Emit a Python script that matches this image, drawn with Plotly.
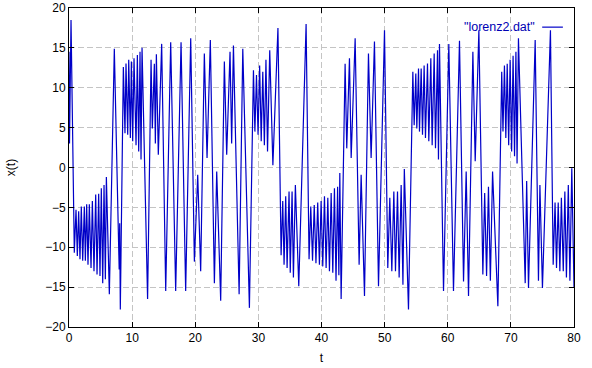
import plotly.graph_objects as go

# Time series x(t) (local extrema in order)
t_values = [
    0.00, 0.08, 0.32, 0.84, 1.11, 1.32, 1.53, 1.74, 1.95, 2.17, 2.43, 2.59, 2.80, 3.01,
    3.22, 3.49, 3.70, 3.96, 4.23, 4.44, 4.70, 4.91, 5.12, 5.34, 5.55, 5.76, 5.92, 6.39,
    7.18, 7.95, 8.03, 8.13, 8.61, 8.87, 9.03, 9.30, 9.46, 9.72, 9.88, 10.09, 10.30, 10.62,
    10.83, 11.04, 11.25, 11.41, 11.57, 12.45, 13.00, 13.20, 13.52, 13.68, 13.84, 14.15,
    14.68, 15.32, 16.11, 16.90, 17.75, 18.48, 19.28, 19.86, 20.39, 20.86, 21.44, 21.87,
    22.39, 23.03, 23.40, 24.03, 24.61, 24.98, 25.51, 25.77, 26.05, 26.95, 27.53, 28.58,
    29.22, 29.45, 29.70, 29.95, 30.20, 30.45, 30.70, 30.95, 31.20, 31.45, 31.80, 32.30,
    33.10, 33.60, 33.86, 34.07, 34.33, 34.55, 34.86, 35.05, 35.34, 35.55, 35.86, 36.40,
    37.56, 38.03, 38.30, 38.58, 38.85, 39.12, 39.40, 39.67, 39.94, 40.20, 40.47, 40.73,
    41.00, 41.26, 41.53, 41.79, 42.05, 42.30, 42.55, 42.75, 42.90, 43.11, 43.74, 44.00,
    44.43, 44.70, 45.33, 45.96, 46.28, 46.81, 47.44, 47.86, 48.39, 49.03, 49.98, 50.50,
    50.82, 51.14, 51.46, 51.72, 52.04, 52.30, 52.62, 52.90, 53.12, 53.78, 54.47, 54.68,
    54.94, 55.10, 55.37, 55.52, 55.79, 56.00, 56.26, 56.47, 56.79, 57.00, 57.32, 57.53,
    57.85, 58.06, 58.38, 58.53, 58.69, 59.33, 60.17, 60.91, 61.86, 62.50, 62.92, 63.29,
    63.98, 64.35, 64.93, 65.56, 65.85, 66.15, 66.45, 66.75, 67.10, 67.94, 68.55, 68.75,
    68.98, 69.20, 69.42, 69.65, 69.88, 70.12, 70.35, 70.58, 70.80, 70.98, 71.20, 72.27,
    72.50, 72.79, 73.85, 74.37, 74.60, 75.00, 76.27, 76.70, 77.00, 77.23, 77.50, 77.76,
    78.00, 78.30, 78.55, 78.80, 79.10, 79.35, 79.65, 80.00,
]

x_values = [
    14.5, 3.0, 18.5, -10.7, -5.3, -11.1, -5.5, -11.5, -4.9, -11.7, -4.9, -11.7, -4.6, -12.2,
    -4.6, -12.6, -4.2, -13.0, -3.4, -13.4, -3.3, -13.6, -2.6, -14.5, -2.2, -14.0, -1.2, -15.9,
    14.9, -12.8, -7.0, -17.8, 12.6, 4.3, 13.05, 4.1, 13.5, 3.7, 13.3, 3.3, 13.7, 2.8,
    14.1, 2.0, 14.5, 1.0, 15.0, -16.5, 13.5, 4.9, 13.0, 3.0, 14.2, 1.6,
    15.5, -15.5, 15.7, -15.5, 15.7, -15.5, 16.2, -11.8, -0.9, -13.0, 14.3, 1.2,
    16.0, -14.5, -0.5, -16.7, 13.3, 1.6, 14.5, 3.0, 15.3, -15.9, 14.9, -17.6,
    12.2, 4.5, 11.6, 4.1, 12.8, 3.3, 12.0, 2.8, 13.5, 2.0, 14.7, 0.3,
    17.5, -11.0, -4.2, -12.2, -3.6, -12.6, -3.0, -13.2, -3.0, -13.8, -2.2, -14.9,
    18.0, -11.5, -4.9, -11.7, -4.7, -12.0, -4.4, -12.2, -4.2, -12.4, -3.6, -12.6,
    -3.8, -13.0, -3.2, -13.2, -2.6, -14.2, -2.4, -13.5, -0.7, -16.5, 13.0, 2.4,
    13.7, 1.2, 16.2, -12.2, -0.9, -16.1, 14.3, 1.2, 15.8, -14.9, 17.2, -12.6,
    -3.8, -13.0, -3.0, -13.0, -3.0, -13.8, -2.2, -14.7, -0.2, -17.8, 12.0, 5.3,
    11.8, 4.9, 12.4, 4.5, 12.4, 4.1, 12.8, 3.7, 13.05, 3.3, 13.7, 2.8,
    14.3, 2.4, 14.7, 1.0, 15.5, -15.5, 15.5, -15.5, 15.9, -14.3, -0.5, -16.1,
    14.5, 0.8, 17.2, -13.4, -3.2, -13.6, -2.4, -14.2, -0.5, -17.4, 12.0, 4.5,
    12.8, 3.7, 13.0, 2.8, 13.5, 2.0, 14.0, 1.4, 14.5, 0.5, 16.2, -14.5,
    -1.7, -15.1, 16.0, -14.2, -2.2, -15.1, 17.2, -12.2, -4.4, -12.6, -4.4, -13.0,
    -3.8, -13.0, -3.0, -13.8, -2.2, -14.2, -0.1, -15.0,
]

x_ticks = [0, 10, 20, 30, 40, 50, 60, 70, 80]
y_ticks = [-20, -15, -10, -5, 0, 5, 10, 15, 20]
series_name = '"lorenz2.dat"'

LINE_COLOR = "#0000c8"
FONT = "Liberation Sans, Arial, sans-serif"

fig = go.Figure()
fig.add_trace(go.Scatter(
    x=t_values, y=x_values, mode="lines",
    line=dict(color=LINE_COLOR, width=1.2),
    name=series_name, showlegend=False,
))

axis_common = dict(
    showline=True, linecolor="black", linewidth=1, mirror="ticks",
    ticks="inside", ticklen=5, tickcolor="black", tickwidth=1,
    showgrid=True, gridcolor="#c4c4c4", griddash="6px,3px", gridwidth=1,
    zeroline=False, tickfont=dict(family=FONT, size=12, color="black"),
    automargin=False,
)

fig.update_xaxes(range=[0, 80], tickvals=x_ticks, **axis_common,
                 title=dict(text="t", font=dict(family=FONT, size=12, color="black"), standoff=9))
fig.update_yaxes(range=[-20, 20], tickvals=y_ticks, **axis_common,
                 title=dict(text="x(t)", font=dict(family=FONT, size=12, color="black"), standoff=27))

# gnuplot-style key: text then line sample, top right inside the plot
fig.add_annotation(xref="paper", yref="paper", x=0.926, y=0.94, xanchor="right", yanchor="middle",
                   text=series_name, showarrow=False,
                   font=dict(family=FONT, size=12.5, color="#0000b4"))
fig.add_shape(type="line", xref="paper", yref="paper", x0=0.937, x1=0.978, y0=0.94, y1=0.94,
              line=dict(color=LINE_COLOR, width=1.2))

fig.update_layout(
    width=592, height=368,
    margin=dict(l=69, r=18, t=8, b=41),
    paper_bgcolor="white", plot_bgcolor="white",
    font=dict(family=FONT, size=12, color="black"),
)

fig.write_html("out.html", config={"displayModeBar": False},
               post_script="document.body.style.margin='0px';")
